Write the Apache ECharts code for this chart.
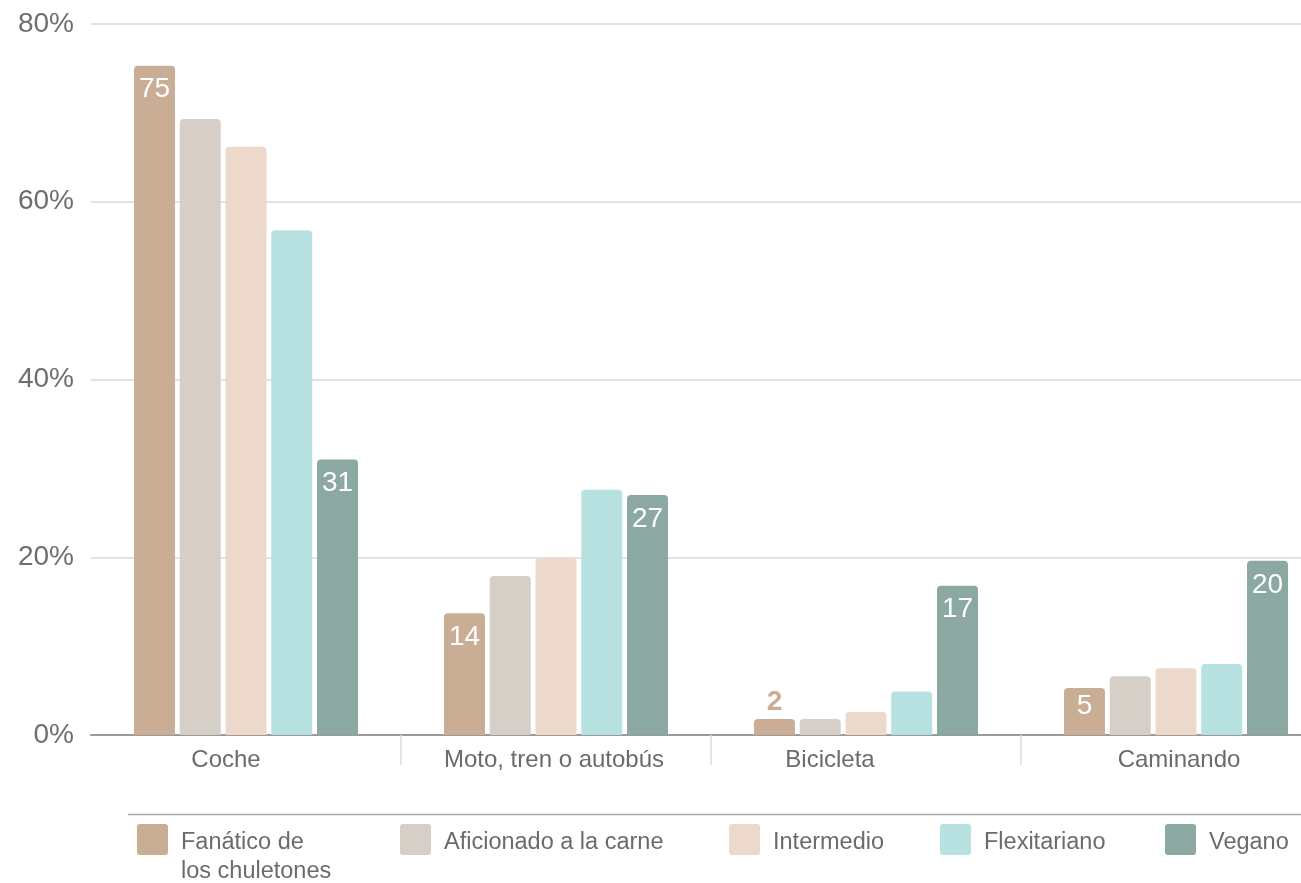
<!DOCTYPE html>
<html>
<head>
<meta charset="utf-8">
<script src="https://cdn.jsdelivr.net/npm/echarts@6/dist/echarts.min.js"></script>
<style>
  html, body { margin: 0; padding: 0; background: #ffffff; overflow: hidden; width: 1301px; height: 883px; }
  #chart { width: 1331px; height: 883px; }
</style>
</head>
<body>
<div id="chart"></div>
<script>
// ---- data ----
const categories = ['Coche', 'Moto, tren o autobús', 'Bicicleta', 'Caminando'];
const seriesNames = ['Fanático de los chuletones', 'Aficionado a la carne', 'Intermedio', 'Flexitariano', 'Vegano'];
const legendLines = [['Fanático de', 'los chuletones'], ['Aficionado a la carne'], ['Intermedio'], ['Flexitariano'], ['Vegano']];
const fanatico     = [75.3, 13.7, 1.8, 5.3];
const aficionado   = [69.3, 17.9, 1.8, 6.6];
const intermedio   = [66.2, 19.9, 2.6, 7.5];
const flexitariano = [56.8, 27.6, 4.9, 8.0];
const vegano       = [31.0, 27.0, 16.8, 19.6];
const yTicks = [0, 20, 40, 60, 80];

// ---- styling ----
const colors = ['#CAAD95', '#D6CFC8', '#ECD9CB', '#B8E1E1', '#8BA8A3'];
const labelled = [true, false, false, false, true];
const FONT = '"Liberation Sans", Arial, Helvetica, sans-serif';
const TEXT = '#6b6b6b';
// horizontal nudges of the category captions (px, + = right)
const captionShift = [-20, -2, -36, 3];
const legendLeft = [137, 400, 729, 940, 1165];

const allValues = [fanatico, aficionado, intermedio, flexitariano, vegano];

function buildData(values, idx) {
  return values.map(v => {
    if (!labelled[idx]) return v;
    if (v < 3) {
      return { value: v, label: { position: 'top', distance: 3, color: colors[idx], fontWeight: 'bold' } };
    }
    if (v < 8) {
      return { value: v, label: { distance: 4 } };
    }
    return v;
  });
}

const series = seriesNames.map((name, i) => ({
  name: name,
  type: 'bar',
  barWidth: 41,
  barGap: '11.6%',
  itemStyle: { color: colors[i], borderRadius: [4, 4, 0, 0] },
  label: {
    show: labelled[i],
    position: 'insideTop',
    distance: 10,
    color: '#ffffff',
    fontSize: 28,
    lineHeight: 28,
    fontFamily: FONT,
    formatter: p => Math.round(p.value)
  },
  emphasis: { disabled: true },
  data: buildData(allValues[i], i)
}));

const rich = {};
captionShift.forEach((s, i) => {
  rich['s' + i] = {
    fontSize: 24, color: TEXT, fontFamily: FONT,
    padding: s < 0 ? [0, -2 * s, 0, 0] : [0, 0, 0, 2 * s]
  };
});

const legendTextBase = { fontSize: 23.5, color: TEXT, fontFamily: FONT, lineHeight: 28.5 };
const legendRich = {
  gs: { fontSize: 4, lineHeight: 7, color: 'rgba(0,0,0,0)' },
  gm: { fontSize: 4, lineHeight: 35.5, color: 'rgba(0,0,0,0)' },
  t: Object.assign({}, legendTextBase)
};
function legendFormat(lines) {
  const gap = lines.length > 1 ? '{gm| }' : '{gs| }';
  return [gap].concat(lines.map(l => '{t|' + l + '}')).join('\n');
}

const iconPath = 'path://M3,0H28Q31,0 31,3V28Q31,31 28,31H3Q0,31 0,28V3Q0,0 3,0Z';
const legends = seriesNames.map((name, i) => ({
  data: [name],
  left: legendLeft[i],
  top: legendLines[i].length > 1 ? 793.25 : 821.75,
  padding: 0,
  itemWidth: 31,
  itemHeight: 31,
  icon: iconPath,
  selectedMode: false,
  formatter: () => legendFormat(legendLines[i]),
  textStyle: Object.assign({}, legendTextBase, { padding: [0, 0, 0, 8], rich: legendRich })
}));

const chart = echarts.init(document.getElementById('chart'), null, { renderer: 'canvas' });
chart.setOption({
  animation: false,
  backgroundColor: '#ffffff',
  textStyle: { fontFamily: FONT },
  grid: { left: 91, top: 24, right: 0, bottom: 148, containLabel: false },
  legend: legends,
  graphic: [{
    type: 'line',
    shape: { x1: 128, y1: 814.5, x2: 1301, y2: 814.5 },
    style: { stroke: '#a3a3a3', lineWidth: 1.5 },
    silent: true
  }],
  xAxis: {
    type: 'category',
    data: categories,
    axisLine: { show: true, lineStyle: { color: '#9a9a9a', width: 2 } },
    axisTick: {
      show: true,
      length: 30,
      interval: (index) => index > 0,
      lineStyle: { color: '#dddddd', width: 1.5 }
    },
    axisLabel: {
      margin: 13,
      fontSize: 24,
      color: TEXT,
      fontFamily: FONT,
      interval: 0,
      formatter: (v, i) => '{s' + i + '|' + v + '}',
      rich: rich
    }
  },
  yAxis: {
    type: 'value',
    min: yTicks[0],
    max: yTicks[yTicks.length - 1],
    interval: yTicks[1] - yTicks[0],
    axisLine: { show: false },
    axisTick: { show: false },
    splitLine: { lineStyle: { color: '#e2e2e2', width: 2 } },
    axisLabel: {
      margin: 17,
      fontSize: 28,
      color: '#6e6e6e',
      fontFamily: FONT,
      formatter: '{value}%'
    }
  },
  series: series
});
</script>
</body>
</html>
